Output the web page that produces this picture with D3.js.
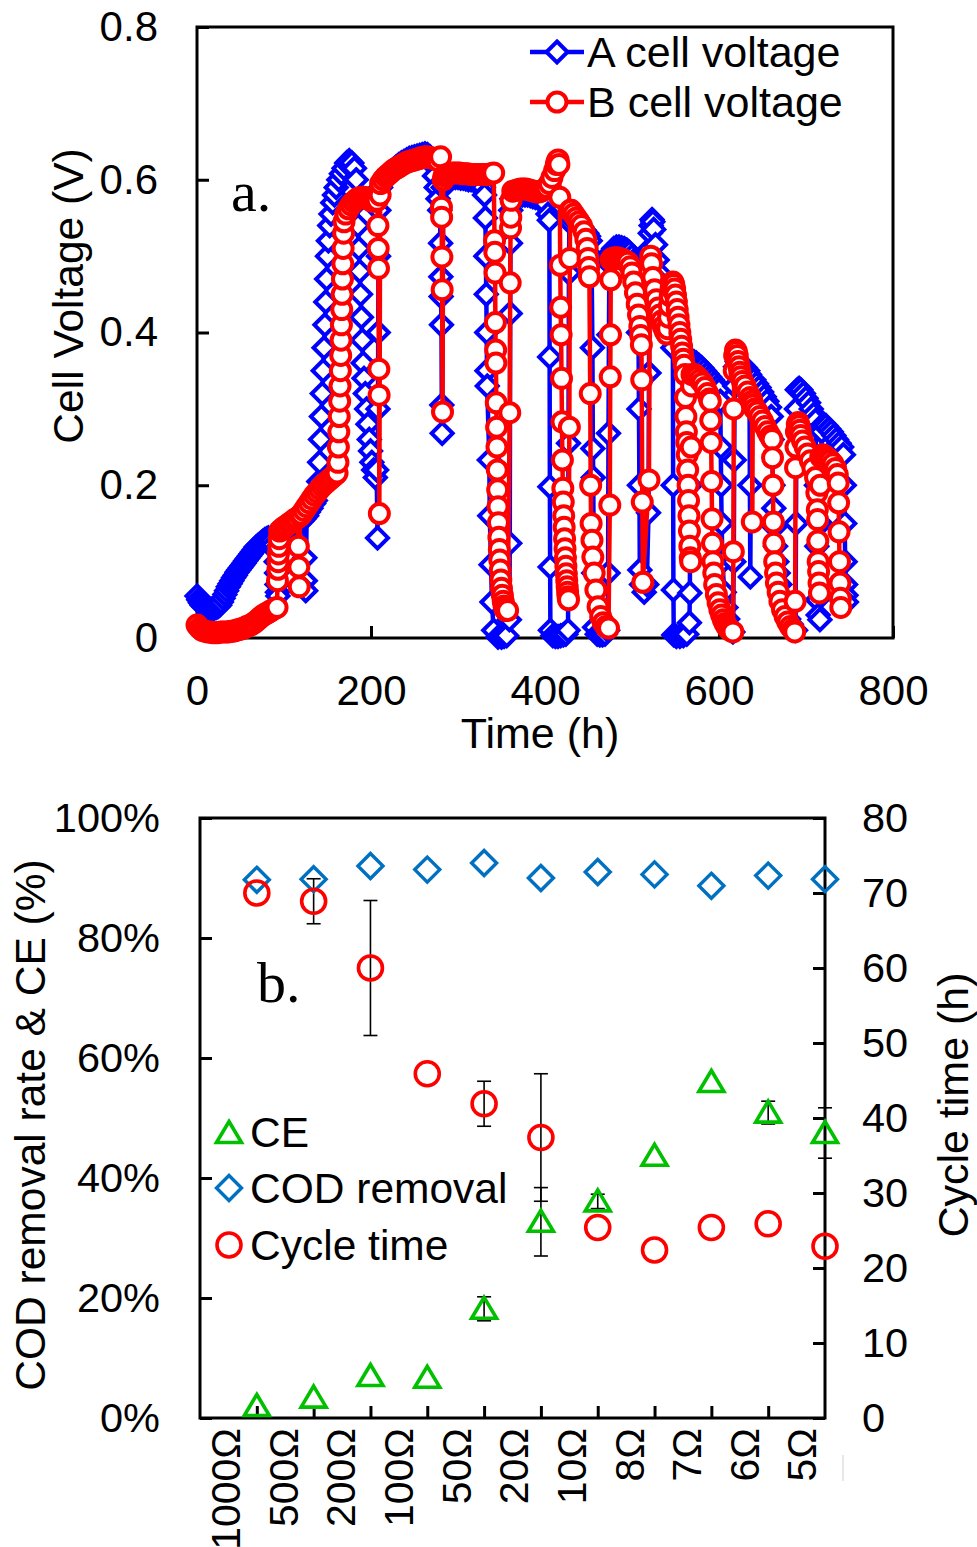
<!DOCTYPE html>
<html>
<head>
<meta charset="utf-8">
<script src="https://cdn.jsdelivr.net/npm/d3@7"></script>
<style>
  body { margin: 0; background: #fff; }
  text { font-family: "Liberation Sans", Arial, sans-serif; fill: #000; }
</style>
</head>
<body>
<div id="chart"></div>
<script>
// ---- data ----
// panel a: [time (h), cell voltage (V)]
var aCell = [
[0,0.055],[2,0.050],[4,0.046],[6,0.043],[8,0.041],[10,0.040],[12,0.039],[14,0.038],[16,0.038],[18,0.038],[20,0.039],[22,0.040],[24,0.041],[26,0.043],[28,0.047],[30,0.052],[32,0.057],[34,0.062],[36,0.067],[38,0.071],[40,0.075],[42,0.079],[44,0.082],[46,0.086],[48,0.089],[50,0.092],[52,0.095],[54,0.098],[56,0.101],[58,0.104],[60,0.107],[62,0.110],[64,0.113],[66,0.116],[68,0.119],[70,0.121],[72,0.123],[74,0.125],[76,0.127],[78,0.129],[80,0.130],[82,0.131],[84,0.130],[86,0.127],[88,0.122],[90,0.115],
[91,0.100],[91.5,0.085],[92,0.070],[92.5,0.060],[93,0.055],[94,0.120],[96,0.130],[99,0.135],[102,0.138],[105,0.140],[108,0.142],[111,0.145],[114,0.148],[117,0.150],[120,0.153],[123,0.156],
[124,0.105],[124.5,0.075],[125,0.062],[126,0.160],[128,0.165],[131,0.170],[134,0.176],[136,0.180],
[138,0.190],[140,0.205],[141,0.230],[142,0.260],[143,0.290],[144,0.320],[145,0.350],[146,0.380],[147,0.410],[148,0.440],[149,0.470],[150,0.500],[151,0.520],[152.5,0.540],[154,0.555],[156,0.570],[158,0.580],[160,0.590],[163,0.600],[166,0.608],[169,0.615],[172,0.622],[175,0.625],[178,0.622],[181,0.615],
[183,0.600],[184,0.570],[185,0.540],[186,0.510],[187,0.480],[188,0.450],[189,0.420],[190,0.390],[191,0.360],[192,0.340],[193.5,0.320],[195,0.300],[196.5,0.280],[198,0.260],[199.5,0.245],[201,0.230],[203,0.220],[205,0.210],[206.5,0.220],[207.5,0.131],
[208,0.300],[208.3,0.400],[208.6,0.500],[209,0.560],
[211,0.590],[214,0.597],[217,0.603],[220,0.607],[223,0.611],[226,0.614],[229,0.617],[232,0.620],[235,0.622],[238,0.624],[241,0.626],[244,0.628],[247,0.629],[250,0.630],[253,0.631],[256,0.632],[259,0.633],[262,0.634],[265,0.633],[268,0.630],[271,0.620],[273,0.605],[275,0.590],[277,0.575],[279,0.560],
[280,0.517],[280.3,0.473],[280.6,0.447],[281,0.410],[281.4,0.305],[281.8,0.268],[283,0.590],
[285,0.595],[288,0.600],[291,0.602],[294,0.603],[297,0.603],[300,0.603],[303,0.602],[306,0.602],[309,0.601],[312,0.600],[315,0.600],[318,0.599],[321,0.598],[324,0.597],[327,0.595],[329,0.590],[330.5,0.580],
[331.5,0.550],[332,0.500],[332.5,0.450],[333,0.400],[333.3,0.350],[333.6,0.330],[336,0.233],[336.5,0.160],[338,0.096],[339,0.047],[341,0.010],[346,0.001],[350,0.001],[353,0.002],[356,0.003],[359,0.024],
[359.5,0.124],[360,0.425],[360.3,0.517],[360.6,0.560],[362,0.575],
[365,0.577],[368,0.578],[371,0.579],[374,0.580],[377,0.580],[380,0.580],[383,0.579],[386,0.578],[389,0.577],[392,0.576],[395,0.575],[398,0.573],[401,0.568],[403.5,0.555],[405,0.547],
[405.3,0.368],[405.6,0.198],[405.9,0.093],[406.2,0.010],[409,0.003],[412,0.002],[415,0.002],[418,0.003],[421,0.004],[424,0.005],[426.5,0.010],
[427,0.255],[427.5,0.478],[428,0.545],
[430,0.550],[433,0.548],[436,0.545],[439,0.542],[442,0.538],[445,0.534],[448,0.530],[450,0.526],[452,0.520],[453.5,0.500],
[454.5,0.380],[455,0.248],[455.5,0.210],[456,0.085],[457,0.014],[460,0.005],[463,0.004],[466,0.004],[469,0.005],[472,0.010],
[472.5,0.085],[473,0.268],[473.5,0.397],[474,0.490],
[476,0.505],[479,0.510],[482,0.512],[485,0.512],[488,0.511],[491,0.510],[494,0.508],[497,0.505],[500,0.500],[502,0.494],[504,0.485],[505.5,0.470],[506.5,0.450],[507.5,0.400],
[508,0.300],[508.5,0.200],[509,0.089],[511,0.070],[514,0.060],[517,0.070],[519,0.164],[519.5,0.347],[520,0.456],[520.5,0.510],[521,0.530],[522,0.540],[523,0.548],[524,0.545],[525,0.535],
[527,0.515],[529,0.495],[531,0.478],[533,0.465],[535,0.455],[537,0.445],[539,0.437],[541,0.430],[543,0.422],[545,0.412],[546,0.400],[547,0.380],
[547.3,0.200],[547.6,0.063],[548,0.004],[551,0.002],[555,0.002],[559,0.003],[563,0.005],[566,0.020],
[566.5,0.059],[567,0.200],[567.5,0.340],[568.5,0.360],[571,0.362],[574,0.360],[577,0.357],[580,0.354],[583,0.350],[586,0.346],[589,0.342],[592,0.338],[595,0.334],[598,0.330],[600,0.325],[601.5,0.310],
[602,0.250],[602.5,0.200],[603,0.150],[604,0.100],[606,0.060],[608,0.040],[610,0.025],[612,0.015],[614,0.010],[616,0.008],
[617,0.100],[617.5,0.233],[618,0.330],[619,0.355],[621,0.362],[624,0.360],[627,0.357],[630,0.354],[633,0.350],[635,0.345],
[635.5,0.200],[636,0.080],[637,0.340],[640,0.338],[643,0.333],[646,0.328],[649,0.322],[652,0.316],[655,0.310],[658,0.302],[660,0.290],
[661,0.260],[662,0.200],[663,0.170],[664,0.145],[665,0.120],[666.5,0.100],[668,0.085],[670,0.070],[672,0.055],[674,0.045],[677,0.035],[680,0.025],[683,0.018],[686,0.012],[688,0.010],
[688.5,0.150],[689,0.300],[690,0.325],[692,0.327],[694,0.325],[697,0.320],[700,0.314],[703,0.308],[706,0.300],[709,0.293],[711,0.285],
[712,0.200],[712.5,0.120],[713,0.050],[714,0.030],[716,0.024],
[717,0.150],[718,0.270],[720,0.280],[723,0.278],[726,0.274],[729,0.270],[732,0.265],[735,0.260],[738,0.255],[741,0.250],[743,0.240],
[744,0.200],[744.5,0.150],[745,0.100],[745.5,0.070],[746,0.056],[746.5,0.047]
];

var bCell = [
[0,0.017],[3,0.013],[6,0.010],[9,0.009],[12,0.008],[15,0.008],[18,0.007],[21,0.007],[24,0.007],[27,0.008],[30,0.008],[33,0.008],[36,0.008],[39,0.009],[42,0.009],[45,0.010],[48,0.011],[51,0.012],[54,0.013],[57,0.015],[60,0.016],[63,0.018],[66,0.020],[69,0.023],[72,0.026],[75,0.029],[78,0.031],[81,0.033],[84,0.035],[87,0.037],[90,0.039],[92,0.040],
[92.5,0.075],[93,0.090],[93.3,0.100],[93.6,0.110],[94,0.120],[94.5,0.130],[95,0.140],[97,0.142],[100,0.145],[103,0.147],[106,0.150],[109,0.152],[112,0.155],[115,0.157],[116.5,0.120],[117,0.093],[117.5,0.067],[118.5,0.160],[120,0.162],[123,0.167],[126,0.172],[129,0.177],[132,0.182],[135,0.187],[138,0.191],[141,0.195],[144,0.199],[147,0.202],[150,0.205],[153,0.208],[156,0.211],[159,0.214],[161,0.216],
[162,0.230],[162.5,0.250],[163,0.270],[163.5,0.290],[164,0.310],[164.4,0.330],[164.8,0.350],[165.2,0.370],[165.6,0.390],[166,0.410],[166.4,0.430],[166.8,0.450],[167.2,0.470],[167.6,0.490],[168,0.510],[168.5,0.530],[169,0.545],
[171,0.555],[174,0.562],[177,0.567],[180,0.571],[183,0.574],[186,0.576],[189,0.577],[192,0.577],[195,0.576],[198,0.574],[201,0.572],[204,0.572],[207,0.573],
[208,0.540],[208.3,0.510],[208.6,0.484],[209,0.352],[209.3,0.318],[209.6,0.163],[210.5,0.580],
[211,0.595],[214,0.600],[217,0.604],[220,0.607],[223,0.610],[226,0.613],[229,0.615],[232,0.617],[235,0.619],[238,0.621],[241,0.623],[244,0.624],[247,0.625],[250,0.626],[253,0.627],[256,0.628],[259,0.629],[262,0.630],[265,0.630],[268,0.629],[271,0.628],[274,0.627],[277,0.625],[280,0.630],
[281,0.564],[281.2,0.551],[281.5,0.499],[281.8,0.456],[282.2,0.296],[283,0.600],
[284,0.605],[287,0.607],[290,0.608],[293,0.609],[296,0.609],[299,0.609],[302,0.609],[305,0.608],[308,0.608],[311,0.608],[314,0.607],[317,0.607],[320,0.607],[323,0.607],[326,0.607],[329,0.607],[332,0.607],[335,0.607],[338,0.608],[341,0.609],
[342,0.520],[342.3,0.505],[342.6,0.478],[343,0.413],[343.3,0.377],[343.6,0.360],[344,0.308],[344.4,0.276],[344.8,0.250],[345.2,0.220],[345.6,0.194],[346,0.172],[346.5,0.151],[347,0.132],[347.5,0.116],[348,0.102],[348.6,0.089],[349.2,0.076],[350,0.065],[351,0.056],[352,0.048],[353,0.042],[354,0.038],[355,0.036],[357,0.036],
[359.5,0.295],[360,0.465],[360.4,0.537],[360.7,0.551],[361,0.573],
[363,0.585],[366,0.586],[369,0.587],[372,0.588],[375,0.588],[378,0.588],[381,0.587],[384,0.586],[387,0.585],[390,0.584],[393,0.584],[396,0.585],[399,0.587],[402,0.590],[405,0.595],[408,0.603],[411,0.612],[413,0.620],[414,0.624],[415,0.626],[416,0.620],
[417,0.577],[417.5,0.488],[418,0.433],[418.5,0.397],[419,0.340],[419.5,0.283],[420,0.233],[420.5,0.196],[421,0.178],[421.5,0.160],[422,0.145],[422.5,0.130],[423,0.117],[423.5,0.105],[424,0.094],[424.5,0.084],[425,0.075],[425.5,0.067],[426,0.060],[426.5,0.054],[427,0.050],
[428,0.276],[428.5,0.497],[429,0.560],
[430,0.560],[433,0.555],[436,0.550],[439,0.545],[442,0.540],[445,0.532],[447,0.522],[448.5,0.510],[449.5,0.497],[450.3,0.485],[451,0.473],[452,0.320],[452.5,0.200],[453,0.150],[454,0.128],[455,0.106],[456.5,0.085],[458.5,0.063],[461,0.041],[464,0.028],[467,0.020],[470,0.015],[473,0.013],
[474.5,0.174],[475,0.342],[475.3,0.397],[475.6,0.469],[476,0.495],
[477,0.497],[480,0.498],[483,0.498],[486,0.497],[489,0.496],[492,0.494],[495,0.492],[498,0.486],[500,0.478],[502,0.466],[504,0.452],[506,0.437],[507.5,0.423],[509,0.408],[510,0.396],[510.8,0.384],[511.2,0.338],[511.8,0.178],[512.5,0.073],
[519.5,0.207],[520.5,0.480],[521.5,0.500],[522.5,0.490],[524,0.472],[526,0.456],[528,0.443],[530,0.432],[532,0.423],[534,0.415],[536,0.408],[538,0.402],[540,0.398],
[541,0.405],[542,0.420],[543,0.435],[544,0.448],[545,0.458],[546,0.464],[547,0.466],[548,0.463],[549,0.457],[550,0.449],[551,0.440],[552,0.430],[553,0.420],[554,0.410],[555,0.400],[556,0.391],[557,0.382],[558,0.373],[559,0.365],[560,0.357],
[561,0.345],[561.5,0.315],[562,0.290],[562.5,0.270],[563,0.256],[563.5,0.240],[564,0.220],[564.5,0.200],[565,0.180],[565.5,0.160],[566,0.140],[566.5,0.120],[567,0.105],[567.5,0.100],
[568,0.250],[568.5,0.330],[569,0.345],[572,0.345],[575,0.342],[578,0.338],[581,0.334],[584,0.328],[587,0.320],[589,0.313],[590,0.310],
[590.5,0.285],[591,0.256],[591.5,0.205],[592,0.156],[592.5,0.124],[593,0.100],[594,0.085],[595,0.070],[597,0.057],[599,0.046],[601,0.037],[603,0.030],[605,0.024],[607,0.019],[609,0.015],[611,0.012],[613,0.010],[616,0.008],
[616.5,0.113],[617,0.300],[617.5,0.350],[618,0.370],[619,0.377],[620,0.375],[621,0.370],[622,0.362],[623,0.355],[624,0.348],[625,0.342],[627,0.336],[630,0.330],[633,0.322],[636,0.315],[638,0.310],
[638.3,0.152],[638.8,0.305],[641,0.300],[644,0.296],[647,0.290],[650,0.284],[653,0.277],[656,0.270],[659,0.264],[661,0.260],
[661.5,0.236],[662,0.200],[662.5,0.152],[663,0.124],[664,0.100],[665,0.085],[666,0.072],[668,0.060],[670,0.048],[673,0.037],[676,0.028],[679,0.021],[682,0.015],[685,0.011],[687,0.008],
[687.5,0.048],[688,0.223],[688.5,0.250],[689,0.270],[690,0.280],[691,0.282],[692,0.278],[693,0.272],[694,0.265],[696,0.258],[699,0.250],[702,0.241],[705,0.232],[708,0.222],[711,0.210],[712.5,0.190],
[713,0.168],[713.3,0.155],[713.6,0.127],[714,0.100],[714.5,0.087],[715,0.072],[715.5,0.059],
[716.5,0.200],[717,0.237],[719,0.240],[722,0.238],[725,0.235],[728,0.232],[731,0.228],[734,0.222],[736,0.214],[737,0.203],
[737.5,0.177],[738,0.139],[738.5,0.100],[739,0.072],[739.5,0.052],[740,0.040]
];

var timeTicks = [0, 200, 400, 600, 800];
var voltTicks = [0, 0.2, 0.4, 0.6, 0.8];

// panel b: one value per external resistor
var resistors = ["1000\u03A9", "500\u03A9", "200\u03A9", "100\u03A9", "50\u03A9", "20\u03A9", "10\u03A9", "8\u03A9", "7\u03A9", "6\u03A9", "5\u03A9"];
var codRemoval = [89.7, 89.8, 92.0, 91.4, 92.5, 90.0, 91.0, 90.6, 88.7, 90.4, 89.8];
var ceValues = [2.0, 3.4, 7.0, 6.7, 18.2, 32.7, 36.1, 43.7, 56.0, 50.9, 47.5];
var ceErr = [0, 0, 0, 0, 2.0, 5.7, 1.2, 0, 0, 1.9, 4.2];
var cycleTime = [70.0, 68.9, 60.0, 45.9, 41.9, 37.4, 25.4, 22.4, 25.4, 25.9, 22.9];
var cycleErr = [0, 3.0, 9.0, 0, 3.0, 8.5, 0, 0, 0, 0, 0];
var pctTicks = [0, 20, 40, 60, 80, 100];
var hourTicks = [0, 10, 20, 30, 40, 50, 60, 70, 80];

var svgWidth = 977;
var svgHeight = 1547;

var svg = d3.select("#chart")
    .append("svg")
    .attr("width", svgWidth)
    .attr("height", svgHeight);

function diamond(h) {
    return "M0," + (-h) + "L" + h + ",0L0," + h + "L" + (-h) + ",0Z";
}
function triangle(w, top, base) {
    return "M0," + (-top) + "L" + w + "," + base + "L" + (-w) + "," + base + "Z";
}

// ================= panel a =================
var xa = d3.scaleLinear().domain([0, 800]).range([197, 893]);
var ya = d3.scaleLinear().domain([0, 0.8]).range([638, 27]);

var panelA = svg.append("g");

panelA.append("g")
    .attr("transform", "translate(0,638)")
    .call(d3.axisBottom(xa).tickValues(timeTicks).tickSizeInner(-12).tickSizeOuter(0).tickPadding(37))
    .call(function(g) { g.select(".domain").remove(); })
    .call(function(g) {
        g.selectAll("line").attr("stroke", "#000").attr("stroke-width", 3);
        g.selectAll("text").style("font-size", "42px").attr("font-family", null);
    });

panelA.append("g")
    .attr("transform", "translate(197,0)")
    .call(d3.axisLeft(ya).tickValues(voltTicks).tickFormat(function(d) { return d === 0 ? "0" : d3.format(".1f")(d); })
        .tickSizeInner(-12).tickSizeOuter(0).tickPadding(39))
    .call(function(g) { g.select(".domain").remove(); })
    .call(function(g) {
        g.selectAll("line").attr("stroke", "#000").attr("stroke-width", 3);
        g.selectAll("text").style("font-size", "42px").attr("font-family", null);
    });

panelA.append("rect")
    .attr("x", 197).attr("y", 27)
    .attr("width", 893 - 197).attr("height", 638 - 27)
    .attr("fill", "none").attr("stroke", "#000").attr("stroke-width", 3);

var voltLine = d3.line()
    .x(function(d) { return xa(d[0]); })
    .y(function(d) { return ya(d[1]); });

// series A (blue diamonds) drawn first, then B on top
panelA.append("path")
    .datum(aCell)
    .attr("d", voltLine)
    .attr("fill", "none")
    .attr("stroke", "#0000FF")
    .attr("stroke-width", 4.5)
    .attr("stroke-linejoin", "round");

panelA.append("g").selectAll("path")
    .data(aCell)
    .enter()
    .append("path")
    .attr("transform", function(d) { return "translate(" + xa(d[0]) + "," + ya(d[1]) + ")"; })
    .attr("d", diamond(10.5))
    .attr("fill", "#fff")
    .attr("stroke", "#0000FF")
    .attr("stroke-width", 4);

panelA.append("path")
    .datum(bCell)
    .attr("d", voltLine)
    .attr("fill", "none")
    .attr("stroke", "#FF0000")
    .attr("stroke-width", 4.5)
    .attr("stroke-linejoin", "round");

panelA.append("g").selectAll("circle")
    .data(bCell)
    .enter()
    .append("circle")
    .attr("cx", function(d) { return xa(d[0]); })
    .attr("cy", function(d) { return ya(d[1]); })
    .attr("r", 9.5)
    .attr("fill", "#fff")
    .attr("stroke", "#FF0000")
    .attr("stroke-width", 4);

// axis titles
panelA.append("text")
    .attr("x", 540).attr("y", 748)
    .attr("text-anchor", "middle")
    .style("font-size", "43px")
    .text("Time (h)");

panelA.append("text")
    .attr("transform", "translate(68,296) rotate(-90)")
    .attr("text-anchor", "middle")
    .attr("dy", "0.35em")
    .style("font-size", "42.5px")
    .text("Cell Voltage (V)");

panelA.append("text")
    .attr("x", 231).attr("y", 211)
    .style("font-family", "'Liberation Serif', 'Times New Roman', serif")
    .style("font-size", "58px")
    .text("a.");

// legend a
var legA = panelA.append("g");
legA.append("line").attr("x1", 530).attr("x2", 584).attr("y1", 52).attr("y2", 52)
    .attr("stroke", "#0000FF").attr("stroke-width", 4.5);
legA.append("path").attr("transform", "translate(557,52)").attr("d", diamond(10.5))
    .attr("fill", "#fff").attr("stroke", "#0000FF").attr("stroke-width", 4);
legA.append("text").attr("x", 587).attr("y", 52).attr("dy", "0.35em")
    .style("font-size", "43px").text("A cell voltage");
legA.append("line").attr("x1", 530).attr("x2", 584).attr("y1", 102).attr("y2", 102)
    .attr("stroke", "#FF0000").attr("stroke-width", 4.5);
legA.append("circle").attr("cx", 557).attr("cy", 102).attr("r", 9.5)
    .attr("fill", "#fff").attr("stroke", "#FF0000").attr("stroke-width", 4);
legA.append("text").attr("x", 587).attr("y", 102).attr("dy", "0.35em")
    .style("font-size", "43px").text("B cell voltage");

// ================= panel b =================
var xb = d3.scaleLinear().domain([0, 11]).range([200, 825]);
var yb = d3.scaleLinear().domain([0, 100]).range([1418, 818]);
var yr = d3.scaleLinear().domain([0, 80]).range([1418, 818]);

var panelB = svg.append("g");

panelB.append("g")
    .attr("transform", "translate(200,0)")
    .call(d3.axisLeft(yb).tickValues(pctTicks).tickFormat(function(d) { return d + "%"; })
        .tickSizeInner(-12).tickSizeOuter(0).tickPadding(40))
    .call(function(g) { g.select(".domain").remove(); })
    .call(function(g) {
        g.selectAll("line").attr("stroke", "#000").attr("stroke-width", 3);
        g.selectAll("text").style("font-size", "41.5px").attr("font-family", null);
    });

panelB.append("g")
    .attr("transform", "translate(825,0)")
    .call(d3.axisRight(yr).tickValues(hourTicks).tickSizeInner(-12).tickSizeOuter(0).tickPadding(37))
    .call(function(g) { g.select(".domain").remove(); })
    .call(function(g) {
        g.selectAll("line").attr("stroke", "#000").attr("stroke-width", 3);
        g.selectAll("text").style("font-size", "41.5px").attr("font-family", null);
    });

panelB.append("g")
    .attr("transform", "translate(0,1418)")
    .call(d3.axisBottom(xb).tickValues(d3.range(1, 11)).tickSizeInner(-12).tickSizeOuter(0).tickFormat(""))
    .call(function(g) { g.select(".domain").remove(); })
    .call(function(g) { g.selectAll("line").attr("stroke", "#000").attr("stroke-width", 3); });

panelB.append("rect")
    .attr("x", 200).attr("y", 818)
    .attr("width", 825 - 200).attr("height", 1418 - 818)
    .attr("fill", "none").attr("stroke", "#000").attr("stroke-width", 3);

// rotated resistor labels under the axis
panelB.append("g").selectAll("text")
    .data(resistors)
    .enter()
    .append("text")
    .attr("transform", function(d, i) {
        return "translate(" + (xb(i + 1) - 31 + 0.8 * i) + ",1428) rotate(-90)";
    })
    .attr("text-anchor", "end")
    .attr("dy", "0.35em")
    .style("font-size", "41px")
    .text(function(d) { return d; });

// faint stray mark next to the last label
panelB.append("line")
    .attr("x1", 843).attr("x2", 843).attr("y1", 1455).attr("y2", 1481)
    .attr("stroke", "#cfcfcf").attr("stroke-width", 1);

// error bars
function errBars(vals, errs, scale) {
    var g = panelB.append("g").attr("stroke", "#000").attr("stroke-width", 1.6);
    vals.forEach(function(v, i) {
        if (!errs[i]) return;
        var x = xb(i + 1);
        var y1 = scale(v - errs[i]), y2 = scale(v + errs[i]);
        g.append("line").attr("x1", x).attr("x2", x).attr("y1", y1).attr("y2", y2);
        g.append("line").attr("x1", x - 7).attr("x2", x + 7).attr("y1", y1).attr("y2", y1);
        g.append("line").attr("x1", x - 7).attr("x2", x + 7).attr("y1", y2).attr("y2", y2);
    });
}
errBars(cycleTime, cycleErr, yr);
errBars(ceValues, ceErr, yb);

panelB.append("g").selectAll("path")
    .data(ceValues)
    .enter()
    .append("path")
    .attr("transform", function(d, i) { return "translate(" + xb(i + 1) + "," + yb(d) + ")"; })
    .attr("d", triangle(12.5, 11.5, 9.5))
    .attr("fill", "none")
    .attr("stroke", "#00C000")
    .attr("stroke-width", 3.6);

panelB.append("g").selectAll("path")
    .data(codRemoval)
    .enter()
    .append("path")
    .attr("transform", function(d, i) { return "translate(" + xb(i + 1) + "," + yb(d) + ")"; })
    .attr("d", diamond(12.5))
    .attr("fill", "none")
    .attr("stroke", "#0070C0")
    .attr("stroke-width", 3.4);

panelB.append("g").selectAll("circle")
    .data(cycleTime)
    .enter()
    .append("circle")
    .attr("cx", function(d, i) { return xb(i + 1); })
    .attr("cy", function(d) { return yr(d); })
    .attr("r", 12)
    .attr("fill", "none")
    .attr("stroke", "#FF0000")
    .attr("stroke-width", 3.6);

// axis titles b
panelB.append("text")
    .attr("transform", "translate(30,1125) rotate(-90)")
    .attr("text-anchor", "middle")
    .attr("dy", "0.35em")
    .style("font-size", "42.5px")
    .text("COD removal rate & CE (%)");

panelB.append("text")
    .attr("transform", "translate(953,1105) rotate(-90)")
    .attr("text-anchor", "middle")
    .attr("dy", "0.35em")
    .style("font-size", "43px")
    .text("Cycle time (h)");

panelB.append("text")
    .attr("x", 257).attr("y", 1002)
    .style("font-family", "'Liberation Serif', 'Times New Roman', serif")
    .style("font-size", "58px")
    .text("b.");

// legend b
var legB = panelB.append("g");
legB.append("path").attr("transform", "translate(229,1133)").attr("d", triangle(12.5, 11.5, 9.5))
    .attr("fill", "none").attr("stroke", "#00C000").attr("stroke-width", 3.6);
legB.append("text").attr("x", 250).attr("y", 1132).attr("dy", "0.35em")
    .style("font-size", "42.5px").text("CE");
legB.append("path").attr("transform", "translate(229,1188)").attr("d", diamond(12.5))
    .attr("fill", "none").attr("stroke", "#0070C0").attr("stroke-width", 3.4);
legB.append("text").attr("x", 250).attr("y", 1188).attr("dy", "0.35em")
    .style("font-size", "42.5px").text("COD removal");
legB.append("circle").attr("cx", 229).attr("cy", 1245).attr("r", 12)
    .attr("fill", "none").attr("stroke", "#FF0000").attr("stroke-width", 3.6);
legB.append("text").attr("x", 250).attr("y", 1245).attr("dy", "0.35em")
    .style("font-size", "42.5px").text("Cycle time");
</script>
</body>
</html>
